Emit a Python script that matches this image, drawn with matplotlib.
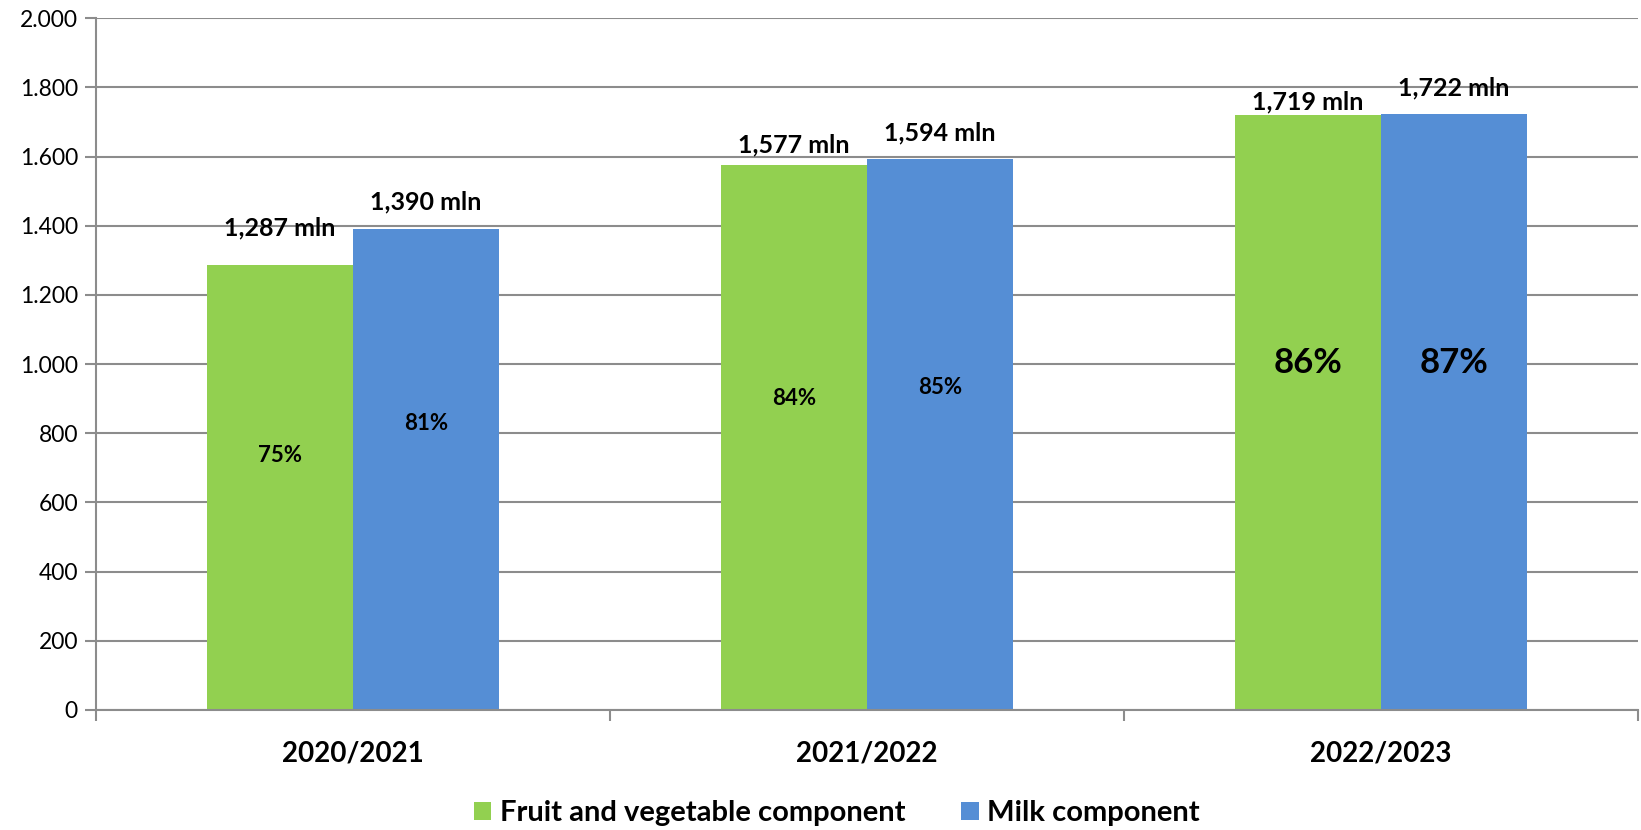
import matplotlib
matplotlib.use("Agg")
import matplotlib.pyplot as plt
from matplotlib.ticker import FuncFormatter, FixedLocator
import numpy as np

plt.rcParams['font.family'] = ['Lato', 'DejaVu Sans']

years = ["2020/2021", "2021/2022", "2022/2023"]
fruit_veg = [1287, 1577, 1719]
milk = [1390, 1594, 1722]
fruit_pct = ["75%", "84%", "86%"]
milk_pct = ["81%", "85%", "87%"]
series_names = ["Fruit and vegetable component", "Milk component"]

green = '#92D050'
blue = '#558ED5'
grey = '#8C8C8C'

# label placement (style, not data)
top_off = [[37, 20, 14], [27, 26, 26]]        # px above bar top
pct_y = [[737, 902, 1003], [827, 931, 1003]]  # y in data units
pct_size = [[16, 16, 25], [16, 16, 25]]

fig = plt.figure(figsize=(16.41, 8.30), dpi=100)
ax = fig.add_axes([0.0585, 0.1446, 0.9395, 0.8334])

x = np.arange(len(years))
w = 0.284
b1 = ax.bar(x - w / 2, fruit_veg, w, color=green, label=series_names[0], zorder=2)
b2 = ax.bar(x + w / 2, milk, w, color=blue, label=series_names[1], zorder=2)

for s, (vals, pcts) in enumerate([(fruit_veg, fruit_pct), (milk, milk_pct)]):
    xs = x - w / 2 if s == 0 else x + w / 2
    for i in range(len(years)):
        ax.annotate(f"{vals[i]:,} mln", (xs[i], vals[i]), xytext=(0, top_off[s][i] * 0.72),
                    textcoords='offset points', ha='center', va='center',
                    fontsize=18, fontweight='bold', zorder=4)
        ax.text(xs[i], pct_y[s][i], pcts[i], ha='center', va='center',
                fontsize=pct_size[s][i], fontweight='bold', zorder=4)

ax.set_ylim(0, 2000)
ax.set_xlim(-0.5, 2.5)
ax.set_yticks(np.arange(0, 2001, 200))
ax.yaxis.set_major_formatter(FuncFormatter(lambda v, p: f"{int(v):,}".replace(",", ".")))
ax.grid(axis='y', color=grey, linewidth=1.5, zorder=1)
ax.set_axisbelow(True)

ax.set_xticks(x)
ax.set_xticklabels(years, fontsize=20, fontweight='bold')
ax.xaxis.set_minor_locator(FixedLocator([-0.5, 0.5, 1.5, 2.5]))
ax.tick_params(axis='x', which='major', length=0, pad=22)
ax.tick_params(axis='x', which='minor', length=8, width=1.5, color=grey)
ax.tick_params(axis='y', length=8, width=1.5, color=grey, labelsize=16.5, pad=5)

for sp in ['top', 'right']:
    ax.spines[sp].set_visible(False)
ax.spines['left'].set_color(grey)
ax.spines['left'].set_linewidth(1.5)
ax.spines['bottom'].set_color(grey)
ax.spines['bottom'].set_linewidth(1.5)

fig.legend(handles=[b1, b2], loc='center', bbox_to_anchor=(0.51, 0.02), ncol=2,
           frameon=False, prop={'size': 21, 'weight': 'bold'}, handlelength=0.6,
           handleheight=0.6, handletextpad=0.3, columnspacing=1.9)

fig.savefig("out.png", dpi=100)
